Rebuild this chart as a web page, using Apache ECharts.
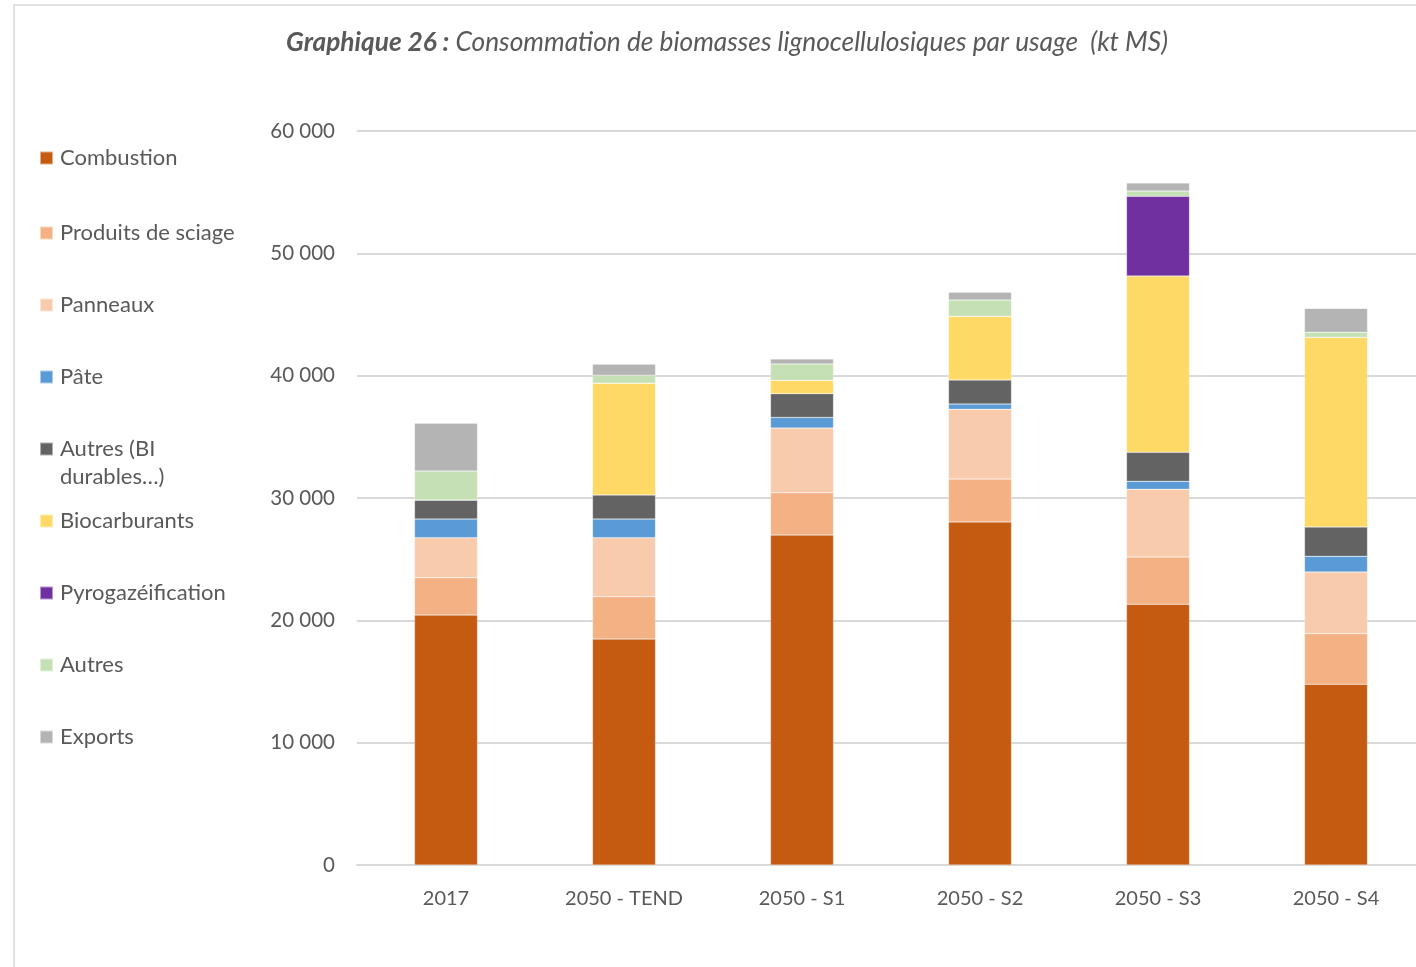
<!DOCTYPE html>
<html><head><meta charset="utf-8">
<script src="https://cdn.jsdelivr.net/npm/echarts@6/dist/echarts.min.js"></script>
<style>html,body{margin:0;padding:0;background:#fff}#c{width:1416px;height:967px}</style>
</head><body><div id="c"></div>
<script>
const categories = ['2017', '2050 - TEND', '2050 - S1', '2050 - S2', '2050 - S3', '2050 - S4'];
const seriesNames = ['Combustion', 'Produits de sciage', 'Panneaux', 'Pâte', 'Autres (BI durables…)', 'Biocarburants', 'Pyrogazéification', 'Autres', 'Exports'];
const combustion = [20430, 18470, 26970, 28040, 21310, 14770];
const sciage = [3050, 3460, 3460, 3510, 3870, 4140];
const panneaux = [3270, 4820, 5290, 5700, 5530, 5040];
const pate = [1530, 1530, 870, 430, 650, 1280];
const autresBI = [1550, 1960, 1940, 1960, 2370, 2400];
const biocarb = [0, 9150, 1090, 5210, 14420, 15500];
const pyro = [0, 0, 0, 0, 6510, 0];
const autres = [2370, 650, 1330, 1330, 430, 410];
const exportsV = [3920, 900, 410, 630, 660, 1960];
const yTicks = [0, 10000, 20000, 30000, 40000, 50000, 60000];

const values = [combustion, sciage, panneaux, pate, autresBI, biocarb, pyro, autres, exportsV];
const colors = ['#C55A11', '#F4B183', '#F8CBAD', '#5B9BD5', '#636363', '#FFD966', '#7030A0', '#C5E0B4', '#B4B4B4'];
const FONT = 'Lato';
const TXT = '#595959';

const chart = echarts.init(document.getElementById('c'), null, {renderer: 'canvas'});
const legendTops = [157, 232, 304, 376, 448, 520, 592, 664, 736];
const legends = seriesNames.map((n, i) => ({
  data: [n], left: 39, top: legendTops[i] - 10, orient: 'vertical', padding: 0,
  icon: 'rect', itemWidth: 13, itemHeight: 13, itemGap: 0,
  selectedMode: false,
  formatter: (name) => name === 'Autres (BI durables…)' ? 'Autres (BI' : name,
  textStyle: {fontFamily: FONT, fontSize: 22, color: TXT, padding: [0, 0, 0, 2]}
}));

chart.setOption({
  animation: false,
  backgroundColor: '#fff',
  title: {
    text: '{b|Graphique 26 :} Consommation de biomasses lignocellulosiques par usage  (kt MS)',
    left: 722, top: 25, textAlign: 'center',
    textStyle: {fontFamily: FONT, fontSize: 26.3, fontStyle: 'italic', fontWeight: 'normal', color: TXT,
      rich: {b: {fontFamily: FONT, fontSize: 26.3, fontStyle: 'italic', fontWeight: 'bold', color: TXT}}}
  },
  legend: legends,
  graphic: [
    {type: 'rect', shape: {x: 14, y: 5, width: 1500, height: 1000}, style: {fill: 'none', stroke: '#d9d9d9', lineWidth: 1.5}, silent: true},
    {type: 'text', left: 60, top: 466, style: {text: 'durables…)', font: '22px ' + FONT, fill: TXT}}
  ],
  grid: {left: 357, width: 1068, top: 131, bottom: 102, containLabel: false, outerBoundsMode: 'none'},
  xAxis: {
    type: 'category', data: categories,
    axisLine: {show: true, lineStyle: {color: '#d9d9d9', width: 2}},
    axisTick: {show: false},
    axisLabel: {fontFamily: FONT, fontSize: 20, color: TXT, margin: 24}
  },
  yAxis: {
    type: 'value', min: yTicks[0], max: yTicks[yTicks.length - 1], interval: 10000,
    axisLine: {show: false}, axisTick: {show: false},
    splitLine: {lineStyle: {color: '#d9d9d9', width: 2}},
    axisLabel: {fontFamily: FONT, fontSize: 20.5, color: TXT, margin: 22,
      formatter: v => v === 0 ? '0' : String(v).replace(/\B(?=(\d{3})+(?!\d))/g, ' ')}
  },
  series: seriesNames.map((n, i) => ({
    name: n, type: 'bar', stack: 'total', barWidth: 63,
    data: values[i],
    itemStyle: {color: colors[i], borderColor: 'rgba(255,255,255,0.5)', borderWidth: 0.5}
  }))
});
</script></body></html>
